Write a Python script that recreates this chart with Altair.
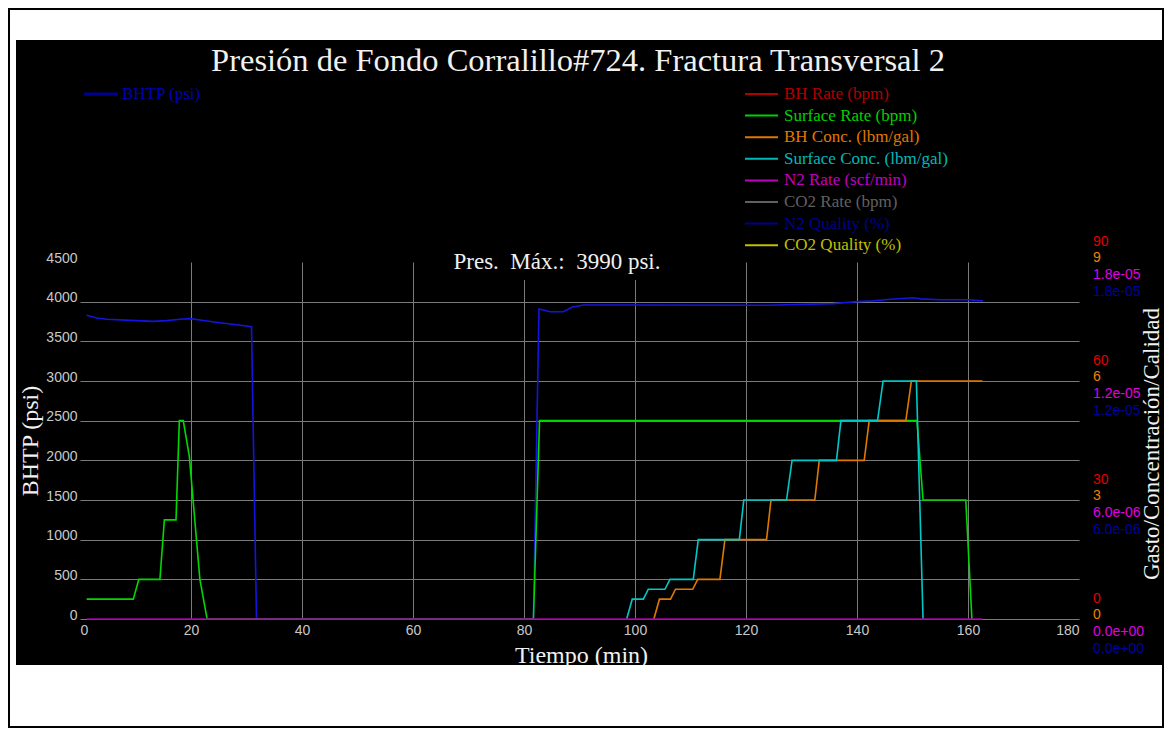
import altair as alt
import pandas as pd

# ---------------- data ----------------
bhtp_time = [1.2, 3.0, 4.8, 10.2, 13.2, 15.6, 18.0, 19.8, 21.6, 25.2, 28.2, 30.9, 31.8,
             81.7, 82.7, 84.7, 87.1, 88.6, 90.7, 99.7, 123.7, 135.7, 140.0, 142.9,
             146.0, 150.0, 151.5, 155.0, 160.0, 162.7]
bhtp_psi = [3829, 3795, 3778, 3761, 3752, 3761, 3778, 3786, 3769, 3735, 3710, 3684, 0,
            0, 3907, 3873, 3873, 3930, 3958, 3958, 3955, 3975, 4000, 4010,
            4030, 4050, 4035, 4025, 4025, 4010]

surf_rate_time = [1.2, 9.6, 10.6, 14.4, 15.2, 17.3, 17.9, 18.6, 19.7, 21.6, 22.9,
                  81.7, 82.8, 150.8, 151.9, 159.6, 160.7]
surf_rate_bpm = [5, 5, 10, 10, 25, 25, 50, 50, 41, 10, 0,
                 0, 50, 50, 30, 30, 0]

bh_conc_time = [103.4, 104.4, 106.4, 107.3, 110.4, 111.3, 115.3, 116.2, 123.7, 124.5,
                132.4, 133.2, 141.3, 142.2, 148.8, 149.8, 162.6]
bh_conc_ppg = [0, 0.5, 0.5, 0.75, 0.75, 1, 1, 2, 2, 3, 3, 4, 4, 5, 5, 6, 6]

surf_conc_time = [98.5, 99.5, 101.5, 102.4, 105.4, 106.3, 110.5, 111.4, 118.8, 119.6,
                  127.3, 128.3, 136.3, 137.1, 143.7, 144.7, 150.7, 151.9]
surf_conc_ppg = [0, 0.5, 0.5, 0.75, 0.75, 1, 1, 2, 2, 3, 3, 4, 4, 5, 5, 6, 6, 0]

n2_time = [1.2, 162.6]
n2_rate = [0, 0]

x_ticks = [0, 20, 40, 60, 80, 100, 120, 140, 160, 180]
y_ticks = [0, 500, 1000, 1500, 2000, 2500, 3000, 3500, 4000, 4500]

right_rate_ticks = [0, 30, 60, 90]
right_conc_ticks = [0, 3, 6, 9]
right_n2_labels = ["0.0e+00", "6.0e-06", "1.2e-05", "1.8e-05"]
right_quality_labels = ["0.0e+00", "6.0e-06", "1.2e-05", "1.8e-05"]

legend_labels = ["BH Rate (bpm)", "Surface Rate (bpm)", "BH Conc. (lbm/gal)",
                 "Surface Conc. (lbm/gal)", "N2 Rate (scf/min)", "CO2 Rate (bpm)",
                 "N2 Quality (%)", "CO2 Quality (%)"]
legend_colors = ["#B00000", "#00D000", "#E07800", "#00B8B8", "#C000C0", "#606060",
                 "#000090", "#C0C000"]

title_text = "Presión de Fondo Corralillo#724. Fractura Transversal 2"
max_text = "Pres.\u00a0\u00a0Máx.:\u00a0\u00a03990 psi."

# ---------------- scales / axes ----------------
W, H = 999, 357
RATE_TO_PSI = 4500 / 90      # right axis: 0-90 bpm spans 0-4500 psi
CONC_TO_PSI = 4500 / 9       # right axis: 0-9 lbm/gal spans 0-4500 psi

xscale = alt.Scale(domain=[0, 180], nice=False, zero=False)
yscale = alt.Scale(domain=[0, 4500], nice=False)

x_axis = alt.Axis(
    values=x_ticks, title="Tiempo (min)", grid=True, format="d",
    gridColor={"condition": {"test": "datum.value == 0 || datum.value == 180", "value": "transparent"},
               "value": "#7a7a7a"},
    gridWidth=1, domain=False, ticks=False, tickSize=0,
    labelFont="Liberation Sans", labelFontSize=14, labelColor="#C8C8C8", labelPadding=4,
    titleFont="Liberation Serif", titleFontSize=24, titleFontWeight="normal", titleColor="#F0F0F0",
    titleX=501, titleY=36, titleBaseline="middle", titleAnchor="middle", titleAlign="center",
)
y_axis = alt.Axis(
    values=y_ticks, title="BHTP (psi)", grid=True, format="d",
    gridColor={"condition": {"test": "datum.value == 4500", "value": "transparent"},
               "value": "#7a7a7a"},
    gridWidth=1, domain=False, ticks=False, tickSize=0,
    labelFont="Liberation Sans", labelFontSize=14, labelColor="#C8C8C8", labelPadding=3,
    labelOffset=-4,
    titleFont="Liberation Serif", titleFontSize=24, titleFontWeight="normal", titleColor="#F0F0F0",
    titleX=-50, titleY=H / 2, titleAngle=270, titleBaseline="middle", titleAlign="center",
)


def xenc():
    return alt.X("t:Q", scale=xscale, axis=x_axis)


def yenc(field):
    return alt.Y(f"{field}:Q", scale=yscale, axis=y_axis)


one = pd.DataFrame({"d": [0]})


def box(x1, x2, y1, y2, **kw):
    return alt.Chart(one).mark_rect(**kw).encode(
        x=alt.value(x1), x2=alt.value(x2), y=alt.value(y1), y2=alt.value(y2))


layers = []

# white frame around the black panel, and outer border
layers.append(box(-72, 1084, -254, -222, color="white"))
layers.append(box(-72, 1084, 403, 466, color="white"))
layers.append(box(-72, -64, -254, 466, color="white"))
layers.append(box(-71, 1083, -253, 465, filled=False, stroke="black", strokeWidth=2))

# black box behind the max-pressure note
layers.append(box(365, 592, -14, 18, color="black"))

# ---------------- series ----------------
df_bhtp = pd.DataFrame({"t": bhtp_time, "v": bhtp_psi})
layers.append(alt.Chart(df_bhtp).mark_line(color="#1414E0", strokeWidth=1.6)
              .encode(x=xenc(), y=yenc("v")))

df_sr = pd.DataFrame({"t": surf_rate_time, "v": surf_rate_bpm})
layers.append(alt.Chart(df_sr).transform_calculate(p=f"datum.v * {RATE_TO_PSI}")
              .mark_line(color="#00D800", strokeWidth=1.6).encode(x=xenc(), y=yenc("p")))

df_bc = pd.DataFrame({"t": bh_conc_time, "v": bh_conc_ppg})
layers.append(alt.Chart(df_bc).transform_calculate(p=f"datum.v * {CONC_TO_PSI}")
              .mark_line(color="#E07800", strokeWidth=1.6).encode(x=xenc(), y=yenc("p")))

df_sc = pd.DataFrame({"t": surf_conc_time, "v": surf_conc_ppg})
layers.append(alt.Chart(df_sc).transform_calculate(p=f"datum.v * {CONC_TO_PSI}")
              .mark_line(color="#00C8C8", strokeWidth=1.6).encode(x=xenc(), y=yenc("p")))

df_n2 = pd.DataFrame({"t": n2_time, "v": n2_rate})
layers.append(alt.Chart(df_n2).transform_calculate(p=f"datum.v * {RATE_TO_PSI}")
              .mark_line(color="#A000A0", strokeWidth=1.6).encode(x=xenc(), y=yenc("p")))

# ---------------- right axis (four stacked colored labels per tick) ----------------
df_right = pd.DataFrame({
    "t": [0, 0, 0, 0],
    "rate": right_rate_ticks,
    "conc": right_conc_ticks,
    "n2": right_n2_labels,
    "q": right_quality_labels,
})
df_right["lvl"] = [r * RATE_TO_PSI for r in right_rate_ticks]
right_specs = [("rate", "#E00000", -20), ("conc", "#F08000", -4),
               ("n2", "#E000E0", 13), ("q", "#0000A0", 30)]
for field, col, dy in right_specs:
    layers.append(alt.Chart(df_right).mark_text(
        align="left", baseline="middle", font="Liberation Sans", fontSize=14,
        color=col, dy=dy).encode(x=alt.value(1013), y=yenc("lvl"), text=f"{field}:N"))

# ---------------- legends ----------------
layers.append(alt.Chart(one).mark_rule(color="#000090", strokeWidth=3).encode(
    x=alt.value(4), x2=alt.value(38), y=alt.value(-168)))
layers.append(alt.Chart(one).mark_text(
    align="left", baseline="middle", font="Liberation Serif", fontSize=17,
    color="#0000B0", text="BHTP (psi)").encode(x=alt.value(42), y=alt.value(-168)))

for i, (lab, col) in enumerate(zip(legend_labels, legend_colors)):
    yy = -168 + i * 21.6
    layers.append(alt.Chart(one).mark_rule(color=col, strokeWidth=2).encode(
        x=alt.value(665), x2=alt.value(698), y=alt.value(yy)))
    layers.append(alt.Chart(one).mark_text(
        align="left", baseline="middle", font="Liberation Serif", fontSize=17,
        color=col, text=lab).encode(x=alt.value(704), y=alt.value(yy)))

# ---------------- titles / notes ----------------
layers.append(alt.Chart(one).mark_text(
    align="center", baseline="alphabetic", font="Liberation Serif", fontSize=32.5,
    color="#F0F0F0", text=title_text).encode(x=alt.value(498), y=alt.value(-191)))
layers.append(alt.Chart(one).mark_text(
    align="center", baseline="alphabetic", font="Liberation Serif", fontSize=23,
    color="#F0F0F0", text=max_text).encode(x=alt.value(477), y=alt.value(7)))
layers.append(alt.Chart(one).mark_text(
    align="center", baseline="middle", font="Liberation Serif", fontSize=23, angle=270,
    color="#F0F0F0", text="Gasto/Concentración/Calidad").encode(
        x=alt.value(1072), y=alt.value(182)))

chart = alt.layer(*layers).properties(
    width=W, height=H,
    background="black",
    autosize=alt.AutoSizeParams(type="none"),
    padding={"left": 72, "top": 254, "right": 85, "bottom": 109},
).configure_view(stroke=None)

chart.save("out.html", embed_options={"renderer": "svg", "actions": False})
